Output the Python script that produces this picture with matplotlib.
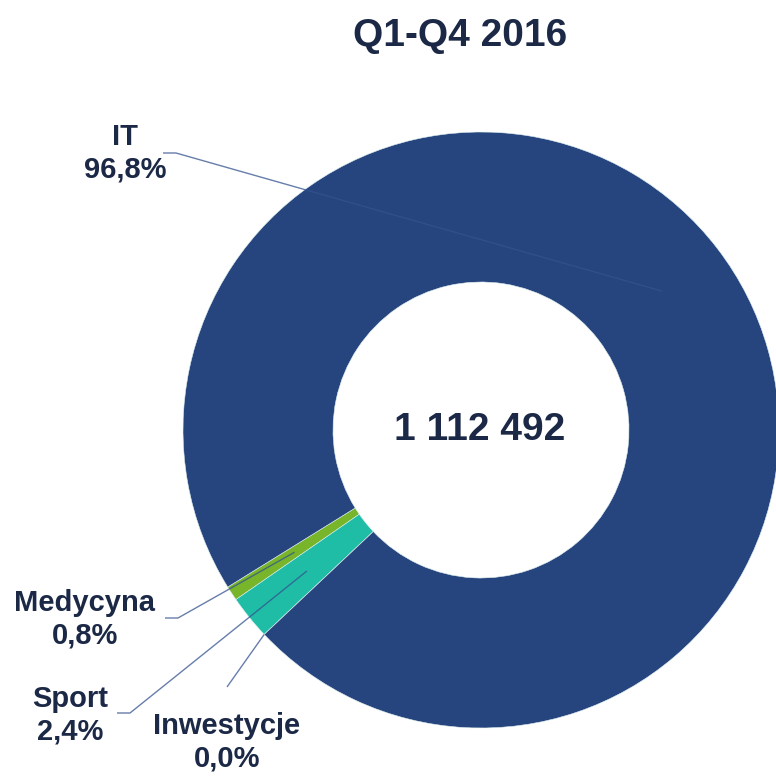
import numpy as np
import matplotlib
matplotlib.use("Agg")
import matplotlib.pyplot as plt

plt.rcParams['font.family'] = ['Liberation Sans', 'DejaVu Sans']

# data (order = counter-clockwise from start angle)
categories = ['Medycyna', 'Sport', 'Inwestycje', 'IT']
values = [8900, 26700, 0, 1076892]
pct_labels = ['0,8%', '2,4%', '0,0%', '96,8%']
colors = ['#78B52A', '#20BDA6', '#26447D', '#26447D']
total_label = '1 112 492'
title = 'Q1-Q4 2016'

W = H = 776
TXT = '#1B2846'
LINE = '#34528F'


def P(x, y):
    # pixel coords (y down) -> data coords (y up)
    return x, H - y


fig = plt.figure(figsize=(7.76, 7.76), dpi=100)
ax = fig.add_axes([0, 0, 1, 1])

cx, cy = P(481, 430)
R = 298
wedges, _ = ax.pie(values, colors=colors, startangle=211.8, counterclock=True,
                   center=(cx, cy), radius=R,
                   wedgeprops=dict(width=150, edgecolor='#DDEFF0', linewidth=0.4))
ax.set_xlim(0, W)
ax.set_ylim(0, H)
ax.set_aspect('equal')
ax.set_axis_off()

ax.text(*P(480, 430), total_label, ha='center', va='center', fontsize=28,
        fontweight='bold', color=TXT)
ax.text(*P(460, 36), title, ha='center', va='center', fontsize=28,
        fontweight='bold', color=TXT)

# labels: text centre, elbow start, elbow end, radius of line end
label_pos = {
    'IT': ((125, 153), (163, 153), (176, 153), 228),
    'Medycyna': ((85, 619), (165, 618), (178, 618), 223),
    'Sport': ((70, 715), (117, 713), (130, 713), 224),
    'Inwestycje': ((227, 742), None, (227, 687), R),
}

for w, cat, pl in zip(wedges, categories, pct_labels):
    (tx, ty), a, b, r_end = label_pos[cat]
    ang = np.deg2rad((w.theta1 + w.theta2) / 2)
    ex, ey = cx + r_end * np.cos(ang), cy + r_end * np.sin(ang)
    pts = [P(*a)] if a else []
    pts += [P(*b), (ex, ey)]
    xs, ys = zip(*pts)
    ax.plot(xs, ys, color=LINE, lw=1.0, alpha=0.75, zorder=5,
            solid_capstyle='butt')
    ax.text(*P(tx, ty), f'{cat}\n{pl}', ha='center', va='center',
            fontsize=21, fontweight='bold', color=TXT, linespacing=1.2)

fig.savefig('out.png', dpi=100)
